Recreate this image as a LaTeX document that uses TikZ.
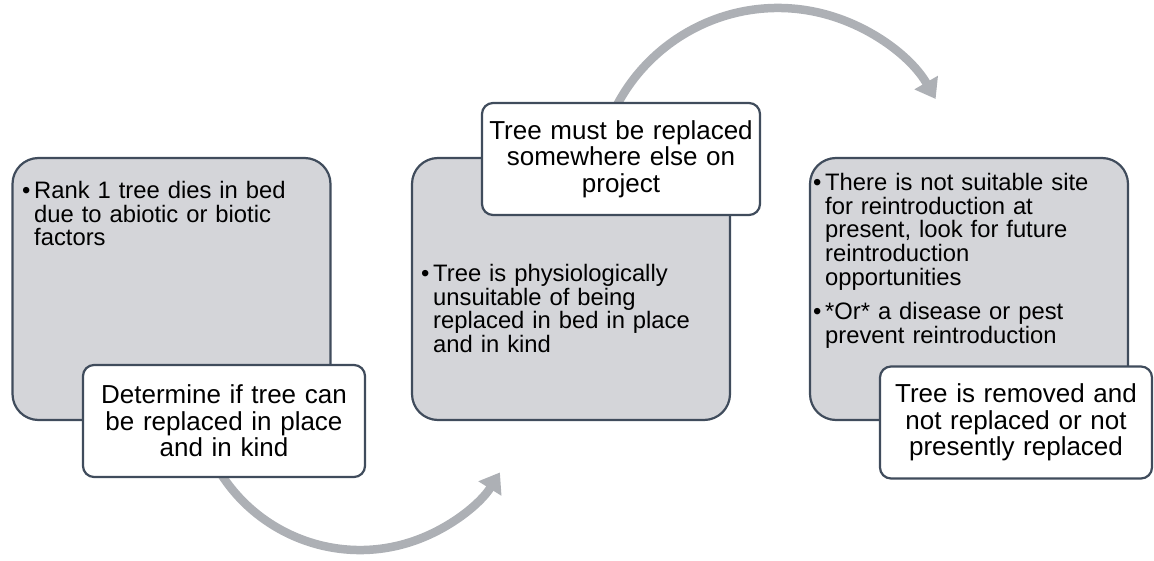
\documentclass[tikz,border=0pt]{standalone}
\usepackage{fontspec}
\setmainfont{Liberation Sans}
\usetikzlibrary{arrows.meta,calc}

\definecolor{panelgrey}{HTML}{D4D5D9}
\definecolor{edgeslate}{HTML}{404C5C}
\definecolor{arcgrey}{HTML}{ADB0B5}

% one bulleted paragraph with a hanging indent; \nl breaks a line inside it
\newcommand{\bitem}{\par\hangindent=12pt\hangafter=1\noindent\makebox[12pt][l]{\textbullet}}
\newcommand{\nl}{\unskip\hfil\break}

\begin{document}
\begin{tikzpicture}[x=1pt,y=1pt,
  panel/.style={draw=edgeslate, line width=2.2pt, fill=panelgrey,
    rounded corners=26pt, minimum width=318pt, minimum height=262pt, inner sep=0pt},
  caption/.style={draw=edgeslate, line width=2.2pt, fill=white,
    rounded corners=11pt, minimum height=112pt, inner sep=0pt, align=center,
    font=\fontsize{26}{26.7}\selectfont},
  bullets/.style={anchor=north west, inner sep=0pt, align=left, text width=300pt,
    font=\fontsize{23.8}{23.6}\selectfont},
  flow/.style={draw=arcgrey, line width=8.5pt, -{Triangle[width=26pt,length=19pt]}}]

\useasboundingbox (0,0) rectangle (1154,560);

% curved arrows between the stages (drawn first, so they pass behind the boxes)
\coordinate (lowhub) at (360,175);
\coordinate (highhub) at (778,370);
\coordinate (lowstart) at ($(lowhub)+(200:165pt)$);
\coordinate (highstart) at ($(highhub)+(165:182pt)$);
\draw[flow] (lowstart) arc[start angle=200, end angle=328, radius=165pt];
\draw[flow] (highstart) arc[start angle=165, end angle=30, radius=182pt];

% stage panels
\node[panel] (p1) at (171.5,271) {};
\node[panel] (p2) at (571,271) {};
\node[panel] (p3) at (969,271) {};

% panel texts
\node[bullets] (t1) at (22,385) {\bitem Rank 1 tree dies in bed\nl due to abiotic or biotic\nl factors\par};
\node[bullets] (t2) at (421,302) {\bitem Tree is physiologically\nl unsuitable of being\nl replaced in bed in place\nl and in kind\par};
\node[bullets] (t3) at (813,393) {\bitem There is not suitable site\nl for reintroduction at\nl present, look for future\nl reintroduction\nl opportunities\par\vspace{11pt}\bitem *Or* a disease or pest\nl prevent reintroduction\par};

% stage captions
\node[caption, minimum width=282pt, text width=274pt] (c1) at (224,139) {Determine if tree can\\be replaced in place\\and in kind};
\node[caption, minimum width=278pt, text width=272pt] (c2) at (621,401) {Tree must be replaced\\somewhere else on\\project};
\node[caption, minimum width=272pt, text width=266pt] (c3) at (1016,137.5) {Tree is removed and\\not replaced or not\\presently replaced};
\end{tikzpicture}
\end{document}
